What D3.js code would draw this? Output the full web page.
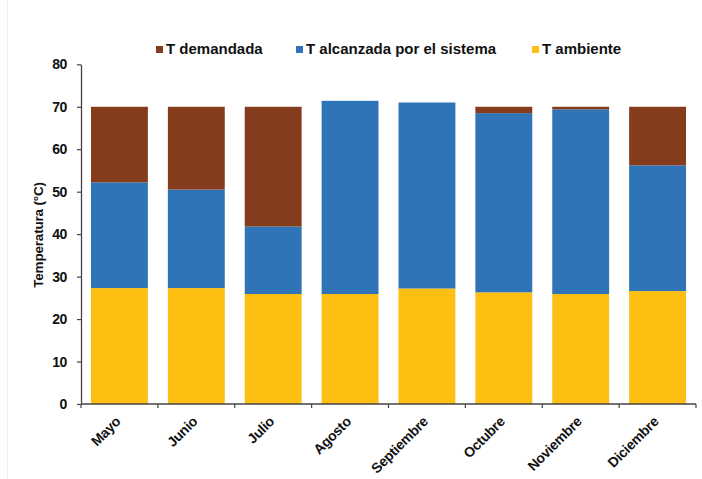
<!DOCTYPE html>
<html>
<head>
<meta charset="utf-8">
<script src="https://cdn.jsdelivr.net/npm/d3@7/dist/d3.min.js"></script>
<style>
  html, body { margin: 0; padding: 0; background: #fff; }
  svg { display: block; font-family: "Liberation Sans", Arial, sans-serif; }
</style>
</head>
<body>
<svg id="chart" width="702" height="479"></svg>
<script>
// Monthly temperatures (°C)
const months = ["Mayo", "Junio", "Julio", "Agosto", "Septiembre", "Octubre", "Noviembre", "Diciembre"];
const tAmbiente = [27.3, 27.3, 25.9, 25.9, 27.2, 26.3, 25.9, 26.6];
const tAlcanzada = [52.2, 50.5, 41.8, 71.4, 71.0, 68.5, 69.4, 56.2];
const tDemandada = [70, 70, 70, 70, 70, 70, 70, 70];
const yTicks = [0, 10, 20, 30, 40, 50, 60, 70, 80];

const seriesNames = ["T demandada", "T alcanzada por el sistema", "T ambiente"];
const colors = {
  "T demandada": "#843C1D",
  "T alcanzada por el sistema": "#2E74B6",
  "T ambiente": "#FDBF11"
};

// Stack segments: ambient at the bottom, system gain above it, remaining demand on top
const rows = months.map((m, i) => ({
  month: m,
  "T ambiente": tAmbiente[i],
  "T alcanzada por el sistema": tAlcanzada[i] - tAmbiente[i],
  "T demandada": Math.max(0, tDemandada[i] - tAlcanzada[i])
}));
const stackKeys = ["T ambiente", "T alcanzada por el sistema", "T demandada"];
const stacked = d3.stack().keys(stackKeys)(rows);

const svg = d3.select("#chart");
const plotLeft = 81, plotRight = 696, plotTop = 64.3, plotBottom = 404;

// faint frame edge on the left
svg.append("line")
  .attr("x1", 7.5).attr("x2", 7.5).attr("y1", 0).attr("y2", 479)
  .attr("stroke", "#ececec").attr("stroke-width", 1);

const x = d3.scaleBand().domain(months).range([plotLeft, plotRight])
  .paddingInner(0.26).paddingOuter(0.13);
const y = d3.scaleLinear().domain([0, 80]).range([plotBottom, plotTop]);

// bars
svg.append("g").selectAll("g")
  .data(stacked)
  .join("g")
  .attr("fill", d => colors[d.key])
  .selectAll("rect")
  .data(d => d)
  .join("rect")
  .attr("x", d => x(d.data.month))
  .attr("width", x.bandwidth())
  .attr("y", d => y(d[1]))
  .attr("height", d => Math.max(0, y(d[0]) - y(d[1])));

// y axis
const yAxis = svg.append("g")
  .attr("transform", `translate(${plotLeft},0)`)
  .call(d3.axisLeft(y).tickValues(yTicks).tickSize(4).tickPadding(10).tickSizeOuter(0));
yAxis.select(".domain").attr("stroke", "#444").attr("stroke-width", 1.3);
yAxis.selectAll(".tick line").attr("stroke", "#444").attr("stroke-width", 1.2);
yAxis.selectAll(".tick text")
  .attr("font-size", 14).attr("font-weight", "bold").attr("fill", "#111")
  .attr("letter-spacing", "-0.4px");

// x axis: ticks at category boundaries
const xAxisG = svg.append("g");
xAxisG.append("line")
  .attr("x1", plotLeft).attr("x2", plotRight).attr("y1", plotBottom).attr("y2", plotBottom)
  .attr("stroke", "#444").attr("stroke-width", 1.3);
const step = x.step();
const boundaries = d3.range(months.length + 1).map(i => plotLeft + i * step);
xAxisG.selectAll(".bt")
  .data(boundaries)
  .join("line")
  .attr("x1", d => d).attr("x2", d => d)
  .attr("y1", plotBottom).attr("y2", plotBottom + 4)
  .attr("stroke", "#444").attr("stroke-width", 1.2);

xAxisG.selectAll(".xl")
  .data(months)
  .join("text")
  .attr("transform", d => `translate(${x(d) + x.bandwidth() / 2 - 1.5},${plotBottom + 15}) rotate(-45)`)
  .attr("text-anchor", "end")
  .attr("dy", "0.35em")
  .attr("font-size", 14).attr("font-weight", "bold").attr("fill", "#111")
  .attr("letter-spacing", "-0.3px")
  .text(d => d);

// y axis title
svg.append("text")
  .attr("transform", `translate(43,235) rotate(-90)`)
  .attr("text-anchor", "middle")
  .attr("font-size", 13.5).attr("font-weight", "bold").attr("fill", "#111")
  .attr("letter-spacing", "-0.2px")
  .text("Temperatura (°C)");

// legend
const legendPos = [156, 296, 532];
const legend = svg.append("g");
seriesNames.forEach((name, i) => {
  const g = legend.append("g").attr("transform", `translate(${legendPos[i]},0)`);
  g.append("rect").attr("x", 0).attr("y", 46).attr("width", 7).attr("height", 7)
    .attr("fill", colors[name]);
  g.append("text").attr("x", 10).attr("y", 54)
    .attr("font-size", 15).attr("font-weight", "bold").attr("fill", "#111")
    .attr("letter-spacing", "0px")
    .text(name);
});
</script>
</body>
</html>
